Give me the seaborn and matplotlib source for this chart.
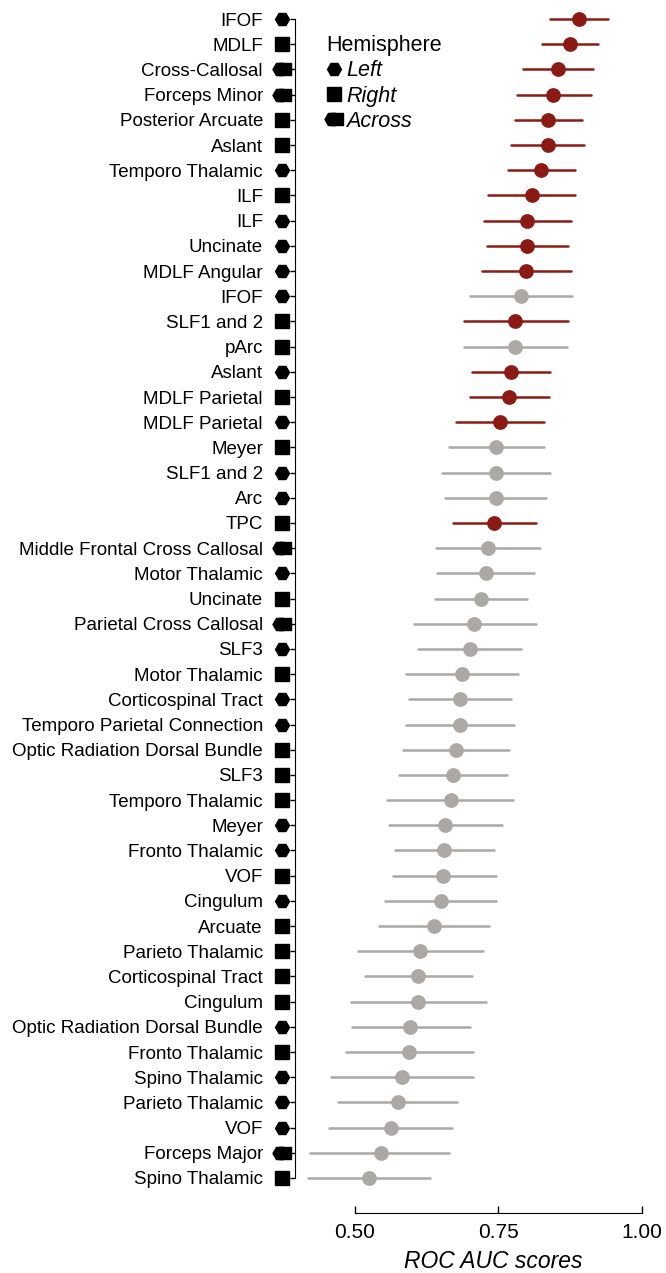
import numpy as np
import pandas as pd
import matplotlib
matplotlib.use("Agg")
import matplotlib.pyplot as plt
from matplotlib.lines import Line2D
from matplotlib.path import Path
import seaborn as sns

# bundle names, top to bottom
bundles = ["IFOF", "MDLF", "Cross-Callosal", "Forceps Minor", "Posterior Arcuate",
           "Aslant", "Temporo Thalamic", "ILF", "ILF", "Uncinate", "MDLF Angular",
           "IFOF", "SLF1 and 2", "pArc", "Aslant", "MDLF Parietal", "MDLF Parietal",
           "Meyer", "SLF1 and 2", "Arc", "TPC", "Middle Frontal Cross Callosal",
           "Motor Thalamic", "Uncinate", "Parietal Cross Callosal", "SLF3",
           "Motor Thalamic", "Corticospinal Tract", "Temporo Parietal Connection",
           "Optic Radiation Dorsal Bundle", "SLF3", "Temporo Thalamic", "Meyer",
           "Fronto Thalamic", "VOF", "Cingulum", "Arcuate", "Parieto Thalamic",
           "Corticospinal Tract", "Cingulum", "Optic Radiation Dorsal Bundle",
           "Fronto Thalamic", "Spino Thalamic", "Parieto Thalamic", "VOF",
           "Forceps Major", "Spino Thalamic"]

hemisphere = ["L", "R", "A", "A", "R", "R", "L", "R", "L", "L", "L",
              "L", "R", "R", "L", "R", "L", "R", "L", "L", "R", "A",
              "L", "R", "A", "L", "R", "L", "L", "R", "R", "R", "L",
              "L", "R", "L", "R", "R", "R", "R", "L", "R", "L", "L", "L",
              "A", "R"]

# 1 = significant (red), 0 = not (gray)
significant = [1, 1, 1, 1, 1, 1, 1, 1, 1, 1, 1,
               0, 1, 0, 1, 1, 1, 0, 0, 0, 1, 0,
               0, 0, 0, 0, 0, 0, 0, 0, 0, 0, 0,
               0, 0, 0, 0, 0, 0, 0, 0, 0, 0, 0, 0,
               0, 0]

auc = [0.891, 0.875, 0.854, 0.846, 0.837, 0.836, 0.825, 0.808, 0.800, 0.800, 0.798,
       0.790, 0.780, 0.780, 0.772, 0.769, 0.753, 0.746, 0.746, 0.746, 0.743, 0.732,
       0.728, 0.720, 0.708, 0.701, 0.687, 0.683, 0.683, 0.676, 0.671, 0.667, 0.657,
       0.656, 0.654, 0.650, 0.638, 0.614, 0.611, 0.610, 0.597, 0.595, 0.582, 0.575,
       0.564, 0.545, 0.525]

auc_lo = [0.840, 0.827, 0.794, 0.783, 0.779, 0.772, 0.767, 0.732, 0.726, 0.730, 0.721,
          0.701, 0.690, 0.691, 0.704, 0.701, 0.677, 0.664, 0.652, 0.657, 0.671, 0.641,
          0.643, 0.640, 0.603, 0.611, 0.590, 0.594, 0.589, 0.585, 0.578, 0.557, 0.559,
          0.571, 0.566, 0.553, 0.543, 0.506, 0.518, 0.493, 0.495, 0.484, 0.459, 0.471,
          0.456, 0.423, 0.418]

auc_hi = [0.941, 0.923, 0.915, 0.911, 0.896, 0.900, 0.884, 0.884, 0.876, 0.871, 0.877,
          0.879, 0.871, 0.869, 0.841, 0.838, 0.830, 0.829, 0.840, 0.834, 0.816, 0.822,
          0.812, 0.800, 0.815, 0.790, 0.785, 0.773, 0.778, 0.768, 0.766, 0.775, 0.757,
          0.743, 0.746, 0.746, 0.734, 0.724, 0.705, 0.728, 0.701, 0.706, 0.706, 0.679,
          0.670, 0.664, 0.632]

red = "#8b1a14"
gray = "#aba8a6"

# long form: low / estimate / high per row, median + full range gives the interval
rows = []
for i in range(len(bundles)):
    for v in (auc_lo[i], auc[i], auc_hi[i]):
        rows.append({"row": i, "score": v, "sig": "yes" if significant[i] else "no"})
df = pd.DataFrame(rows)

sns.set_style("ticks")
plt.rcParams["font.family"] = ["Liberation Sans", "DejaVu Sans"]
plt.rcParams["text.color"] = "black"
plt.rcParams["axes.labelcolor"] = "black"
plt.rcParams["xtick.color"] = "black"
plt.rcParams["ytick.color"] = "black"
plt.rcParams["axes.edgecolor"] = "black"

fig = plt.figure(figsize=(6.66, 12.73), dpi=100)
ax = fig.add_axes([295 / 666, 60 / 1273, 358.2 / 666, 1208 / 1273])

sns.pointplot(data=df, x="score", y="row", hue="sig", order=list(range(len(bundles))),
              hue_order=["yes", "no"], palette={"yes": red, "no": gray},
              estimator="median", errorbar=("pi", 100), orient="h",
              linestyle="none", markers="o", markersize=8.6,
              err_kws={"linewidth": 1.8}, dodge=False, legend=False, ax=ax)

ax.set_xlim(0.396, 1.02)
ax.set_ylim(47.39, -0.56)
ax.set_xticks([0.5, 0.75, 1.0])
ax.set_xticklabels(["0.50", "0.75", "1.00"])
ax.set_yticks(range(len(bundles)))
ax.set_yticklabels(bundles)
ax.tick_params(axis="y", length=3.6, width=1, pad=19.5, labelsize=13.5)
ax.tick_params(axis="x", direction="in", length=5, width=1, pad=7, labelsize=15)

for s in ["top", "right"]:
    ax.spines[s].set_visible(False)
ax.spines["left"].set_bounds(0, len(bundles) - 1)
ax.spines["bottom"].set_bounds(0.5, 1.0)

ax.set_ylabel("")
ax.set_xlabel("ROC AUC scores", fontsize=16.5, style="italic")
ax.xaxis.set_label_coords(0.553, -0.031)

# marker for "Across": hexagon merged with a square
ang = np.deg2rad(np.arange(0, 360, 60))
hexv = np.column_stack([-2.5 + 7 * np.cos(ang), 7 * np.sin(ang)])
sqv = np.array([[-3, -6], [9, -6], [9, 6], [-3, 6]])
across = Path.make_compound_path(Path(np.vstack([hexv, hexv[:1]]), closed=True),
                                 Path(np.vstack([sqv, sqv[:1]]), closed=True))

mk = {"L": ("H", 10.0), "R": ("s", 9.4), "A": (across, 13.7)}
xm = 0.3733
for h in ["L", "R", "A"]:
    idx = [i for i, v in enumerate(hemisphere) if v == h]
    ax.plot([xm] * len(idx), idx, linestyle="none", marker=mk[h][0],
            markersize=mk[h][1], color="black", clip_on=False)

handles = [Line2D([], [], linestyle="none", marker=mk[h][0], markersize=mk[h][1],
                  color="black") for h in ["L", "R", "A"]]
leg = fig.legend(handles, ["Left", "Right", "Across"], title="Hemisphere",
                 loc="upper left", bbox_to_anchor=(326 / 666, 1 - 35 / 1273),
                 frameon=False, prop={"style": "italic", "size": 15.5},
                 title_fontsize=15.5, handlelength=0.75, handletextpad=0.2,
                 labelspacing=0.2, borderpad=0, borderaxespad=0, alignment="left")

fig.savefig("out.png", dpi=100)
